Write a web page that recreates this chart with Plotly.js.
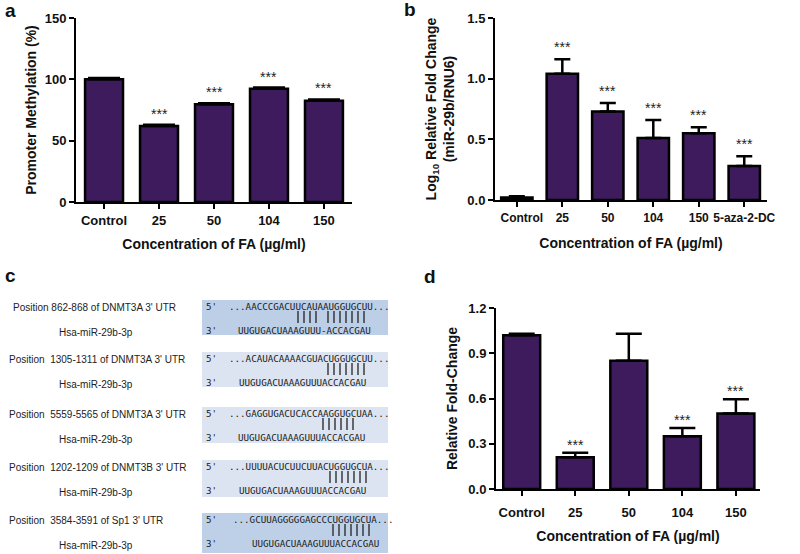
<!DOCTYPE html>
<html>
<head>
<meta charset="utf-8">
<script src="https://cdn.plot.ly/plotly-3.0.1.min.js"></script>
<style>html,body{margin:0;padding:0;background:#fff;}#chart{width:800px;height:554px;}</style>
</head>
<body>
<div id="chart"></div>
<script>
// ---------- data ----------
const catsA = ['Control', '25', '50', '104', '150'];
const methylation = [100, 62, 79.6, 92.3, 82.6];
const methylationErr = [1, 1, 1, 1, 1];
const sigA = ['', '***', '***', '***', '***'];

const catsB = ['Control', '25', '50', '104', '150', '5-aza-2-DC'];
const mir29b = [0.02, 1.04, 0.73, 0.51, 0.55, 0.28];
const mir29bErr = [0.01, 0.12, 0.07, 0.15, 0.05, 0.08];
const sigB = ['', '***', '***', '***', '***', '***'];

const catsD = ['Control', '25', '50', '104', '150'];
const foldChange = [1.02, 0.21, 0.85, 0.35, 0.50];
const foldErr = [0.01, 0.03, 0.18, 0.055, 0.095];
const sigD = ['', '***', '', '***', '***'];

const siteLabels = [
  "Position 862-868 of DNMT3A 3' UTR",
  "Position \u00a01305-1311 of DNMT3A 3' UTR",
  "Position \u00a05559-5565 of DNMT3A 3' UTR",
  "Position \u00a01202-1209 of DNMT3B 3' UTR",
  "Position \u00a03584-3591 of Sp1 3' UTR"
];
const mirName = 'Hsa-miR-29b-3p';
const targetSeqs = [
  '...AACCCGACUUCAUAAUGGUGCUU...',
  '...ACAUACAAAACGUACUGGUGCUU...',
  '...GAGGUGACUCACCAAGGUGCUAA...',
  '...UUUUACUCUUCUUACUGGUGCUA...',
  '...GCUUAGGGGGAGCCCUGGUGCUA...'
];
const mirSeqs = [
  'UUGUGACUAAAGUUU-ACCACGAU',
  'UUGUGACUAAAGUUUACCACGAU',
  'UUGUGACUAAAGUUUACCACGAU',
  'UUGUGACUAAAGUUUACCACGAU',
  'UUGUGACUAAAGUUUACCACGAU'
];
const pairMarks = [['||||', '|||||||'], ['|||||||'], ['||||||'], ['|||||||'], ['|||||||']];

const xTitle = 'Concentration of FA (\u00b5g/ml)';

// ---------- layout helpers ----------
const W = 800, H = 554;
const px = v => v / W;
const py = v => 1 - v / H;
const FONT = 'Arial, "Liberation Sans", sans-serif';
const MONO = '"DejaVu Sans Mono", monospace';
const barFill = '#3e1b5d';
const NB = n => '\u00a0'.repeat(n);

// panel b: the Control label sits slightly right of its bar in the reference
const tickPadB = [3, 0, 0, 0, 0, 0];

// panel c geometry (schematic)
const rowTops = [300, 352, 407, 460, 513];
const rowHeights = [35, 35, 36, 37, 40];
const rowFills = ['#bccfe7', '#dbe4f0', '#dbe4f0', '#dbe4f0', '#bdd0e8'];
const topSeqX = [227, 227, 227, 227, 231];
const botSeqX = [236, 237, 236, 237, 250];
const pairX = [[298, 328], [328], [323], [330], [333]];
const pairStep = 6;

function barTrace(cats, vals, errs, xa, ya, capw) {
  return {
    type: 'bar', x: cats, y: vals, xaxis: xa, yaxis: ya,
    marker: {color: barFill, line: {color: '#000', width: 2.5}},
    error_y: {type: 'data', symmetric: false, array: errs, arrayminus: errs.map(() => 0),
              color: '#000', thickness: 2.5, width: capw},
    hoverinfo: 'none', showlegend: false
  };
}

const traces = [
  barTrace(catsA, methylation, methylationErr, 'x', 'y', 16),
  barTrace(catsB, mir29b, mir29bErr, 'x2', 'y2', 8),
  barTrace(catsD, foldChange, foldErr, 'x3', 'y3', 13)
];

const axBase = {
  showline: true, linecolor: '#000', linewidth: 2, ticks: 'outside', ticklen: 5,
  tickwidth: 2, tickcolor: '#000', showgrid: false, zeroline: false, fixedrange: true,
  automargin: false, tickfont: {family: FONT, size: 13, color: '#111', weight: 'bold'}
};
function xax(domain, range, anchor, standoff, labelStandoff) {
  return Object.assign({}, axBase, {domain, range, anchor, type: 'category', tickangle: 0,
    ticklabelstandoff: labelStandoff,
    title: {text: xTitle, font: {family: FONT, size: 14, color: '#111', weight: 'bold'}, standoff}});
}
function yax(domain, range, dtick, fmt, anchor, title, standoff) {
  return Object.assign({}, axBase, {domain, range, anchor, dtick, tickformat: fmt, tick0: 0,
    title: {text: title, font: {family: FONT, size: 14, color: '#111', weight: 'bold'}, standoff}});
}

const annotations = [];
function stars(cats, vals, errs, sig, xa, ya, shift) {
  cats.forEach((c, i) => {
    if (!sig[i]) return;
    annotations.push({xref: xa, yref: ya, x: i, y: vals[i] + errs[i], text: sig[i],
      showarrow: false, yanchor: 'bottom', yshift: shift,
      font: {family: FONT, size: 14, color: '#222', weight: 'normal'}});
  });
}
stars(catsA, methylation, methylationErr, sigA, 'x', 'y', 1);
stars(catsB, mir29b, mir29bErr, sigB, 'x2', 'y2', 2);
stars(catsD, foldChange, foldErr, sigD, 'x3', 'y3', -2);

// panel letters
[['a', 3, 10], ['b', 402, 9], ['c', 3, 275], ['d', 422, 276]].forEach(([t, x, y]) => {
  annotations.push({xref: 'paper', yref: 'paper', x: px(x), y: py(y), text: t, showarrow: false,
    xanchor: 'left', yanchor: 'middle', font: {family: FONT, size: 19, color: '#111', weight: 'bold'}});
});

// panel c schematic
const shapes = [];
const lblFont = {family: FONT, size: 10, color: '#222', weight: 'normal'};
const seqFont = {family: MONO, size: 9.2, color: '#1a1a1a', weight: 'normal'};
siteLabels.forEach((lab, i) => {
  const top = rowTops[i], h = rowHeights[i];
  shapes.push({type: 'rect', xref: 'paper', yref: 'paper', layer: 'below',
    x0: px(202), x1: px(388), y0: py(top + h), y1: py(top), fillcolor: rowFills[i], line: {width: 0}});
  const yTop = top + 6, yMid = top + 17, yBot = top + 30;
  annotations.push({xref: 'paper', yref: 'paper', x: px(i === 0 ? 11 : 7), y: py(yTop + 1), text: lab,
    showarrow: false, xanchor: 'left', yanchor: 'middle', font: lblFont});
  annotations.push({xref: 'paper', yref: 'paper', x: px(57), y: py(yBot + 2), text: mirName,
    showarrow: false, xanchor: 'left', yanchor: 'middle', font: lblFont});
  annotations.push({xref: 'paper', yref: 'paper', x: px(204), y: py(yTop), text: "5'",
    showarrow: false, xanchor: 'left', yanchor: 'middle', font: seqFont});
  annotations.push({xref: 'paper', yref: 'paper', x: px(204), y: py(yBot), text: "3'",
    showarrow: false, xanchor: 'left', yanchor: 'middle', font: seqFont});
  annotations.push({xref: 'paper', yref: 'paper', x: px(topSeqX[i]), y: py(yTop), text: targetSeqs[i],
    showarrow: false, xanchor: 'left', yanchor: 'middle', font: seqFont});
  annotations.push({xref: 'paper', yref: 'paper', x: px(botSeqX[i]), y: py(yBot), text: mirSeqs[i],
    showarrow: false, xanchor: 'left', yanchor: 'middle', font: seqFont});
  pairMarks[i].forEach((p, k) => {
    for (let j = 0; j < p.length; j++) {
      const xx = pairX[i][k] + j * pairStep;
      shapes.push({type: 'line', xref: 'paper', yref: 'paper', x0: px(xx), x1: px(xx),
        y0: py(yMid - 6), y1: py(yMid + 6), line: {color: '#222', width: 1.3}});
    }
  });
});

const xaxis2 = xax([px(495), px(767)], [-0.48, 5.5], 'y2', 14, 1);
xaxis2.tickmode = 'array';
xaxis2.tickvals = catsB;
xaxis2.ticktext = catsB.map((c, i) => NB(tickPadB[i]) + c);
xaxis2.tickfont = {family: FONT, size: 12, color: '#111', weight: 'bold'};

const layout = {
  width: W, height: H, margin: {l: 0, r: 0, t: 0, b: 0},
  paper_bgcolor: '#fff', plot_bgcolor: '#fff', showlegend: false,
  font: {family: FONT, size: 13, color: '#111', weight: 'bold'},
  bargap: 0.31,
  xaxis: xax([px(76), px(352)], [-0.51, 4.51], 'y', 13, 0),
  yaxis: yax([py(202), py(18)], [0, 150], 50, 'd', 'x', 'Promoter Methylation (%)', 5),
  xaxis2,
  yaxis2: yax([py(200), py(18)], [0, 1.5], 0.5, '.1f', 'x2',
    'Log<sub>10</sub> Relative Fold Change<br>(miR-29b/RNU6)', 9),
  xaxis3: xax([px(496), px(760)], [-0.48, 4.45], 'y3', 13, 5),
  yaxis3: yax([py(489), py(308)], [0, 1.2], 0.3, '.1f', 'x3', 'Relative Fold-Change', 7),
  annotations, shapes
};

Plotly.newPlot('chart', traces, layout, {staticPlot: true, displayModeBar: false});
</script>
</body>
</html>
